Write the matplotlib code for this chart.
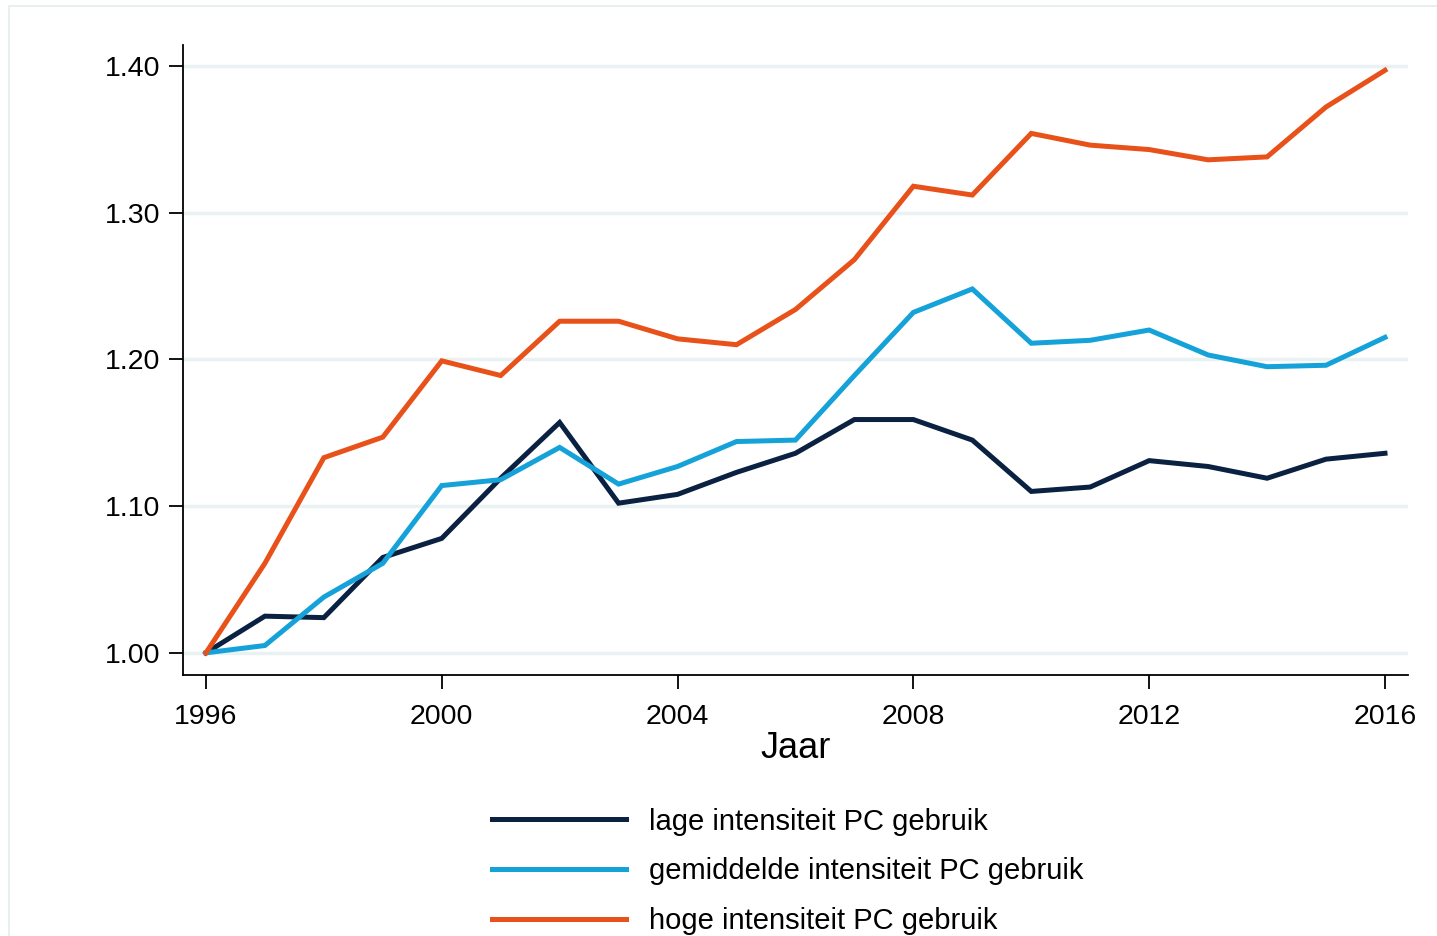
import numpy as np
import matplotlib.pyplot as plt
from matplotlib.patches import Rectangle

plt.rcParams['font.family'] = ['Liberation Sans', 'DejaVu Sans']

# MARK: - Data
years = list(range(1996, 2017))

lage = [1.000, 1.025, 1.024, 1.065, 1.078, 1.119, 1.157, 1.102, 1.108, 1.123, 1.136,
        1.159, 1.159, 1.145, 1.110, 1.113, 1.131, 1.127, 1.119, 1.132, 1.136]
gemiddelde = [1.000, 1.005, 1.038, 1.061, 1.114, 1.118, 1.140, 1.115, 1.127, 1.144, 1.145,
              1.189, 1.232, 1.248, 1.211, 1.213, 1.220, 1.203, 1.195, 1.196, 1.215]
hoge = [1.000, 1.061, 1.133, 1.147, 1.199, 1.189, 1.226, 1.226, 1.214, 1.210, 1.234,
        1.268, 1.318, 1.312, 1.354, 1.346, 1.343, 1.336, 1.338, 1.372, 1.397]

series_labels = ["lage intensiteit PC gebruik",
                 "gemiddelde intensiteit PC gebruik",
                 "hoge intensiteit PC gebruik"]
colors = ["#0b2142", "#14a2d9", "#e8511a"]

x_ticks = [1996, 2000, 2004, 2008, 2012, 2016]
y_ticks = [1.00, 1.10, 1.20, 1.30, 1.40]

# MARK: - Plot
fig = plt.figure(figsize=(14.37, 9.36), dpi=100)
ax = fig.add_axes([0.1273, 0.279, 0.8525, 0.673])

# faint outer frame
fig.patches.append(Rectangle((9 / 1437, -0.05), 1.2, 1 - 6 / 936 + 0.05,
                             transform=fig.transFigure, fill=False,
                             edgecolor="#e4ecee", linewidth=1.2))

for yt in y_ticks:
    ax.axhline(yt, color="#eaf1f3", linewidth=2.5, zorder=0)

handles = []
for vals, lab, col in zip([lage, gemiddelde, hoge], series_labels, colors):
    h, = ax.plot(years, vals, color=col, linewidth=3.6, label=lab,
                 solid_joinstyle="miter", zorder=3)
    handles.append(h)

ax.set_xlim(1995.61, 2016.39)
ax.set_ylim(0.985, 1.4143)
ax.set_xticks(x_ticks)
ax.set_yticks(y_ticks)
ax.set_yticklabels([f"{v:.2f}" for v in y_ticks])
ax.tick_params(axis="both", direction="out", length=10, width=1.3, labelsize=20.5)
ax.tick_params(axis="x", pad=11)
ax.tick_params(axis="y", pad=6)

for side in ["top", "right"]:
    ax.spines[side].set_visible(False)
for side in ["left", "bottom"]:
    ax.spines[side].set_linewidth(1.3)

ax.set_xlabel("Jaar", fontsize=26, labelpad=1)

fig.legend(handles=handles, loc="center", bbox_to_anchor=(0.548, 0.069),
           frameon=False, fontsize=21, handlelength=4.6, handletextpad=0.79,
           labelspacing=0.75)

fig.savefig("out.png", dpi=100)
